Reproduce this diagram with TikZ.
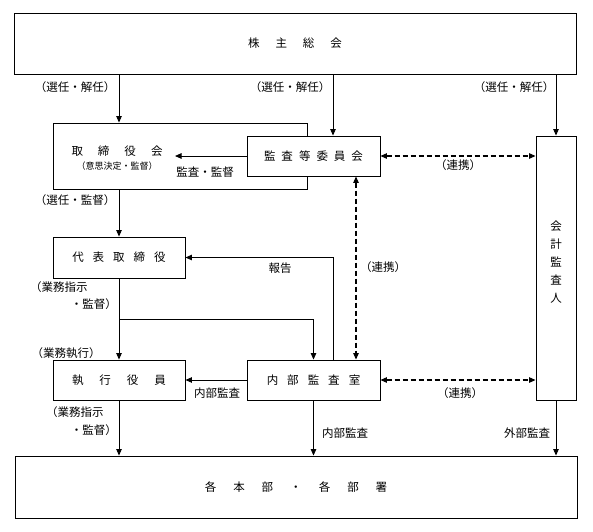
\documentclass[tikz,border=0pt]{standalone}
\usepackage{fontspec}
\setmainfont{Noto Sans CJK JP}
\usetikzlibrary{arrows.meta}
\tikzset{>={Triangle[length=6.5pt,width=5.5pt]}}
\tikzset{
  box/.style={draw, line width=0.9pt, fill=white, inner sep=0pt},
  boxtext/.style={font=\fontsize{11.5}{13}\selectfont, inner sep=0pt},
  lbl/.style={font=\fontsize{11.5}{13}\selectfont, inner sep=0pt},
  flow/.style={->, line width=0.9pt},
  link/.style={<->, dash pattern=on 5pt off 3pt, line width=1.1pt}
}

\begin{document}
\begin{tikzpicture}[x=1pt,y=-1pt]
\useasboundingbox (0,0) rectangle (593,531);
% boxes
\node[box, minimum width=562pt, minimum height=61pt] (soukai) at (295,43.5) {};
\node[box, minimum width=254pt, minimum height=66pt] (torikai) at (180,156) {};
\node[box, minimum width=133pt, minimum height=40pt] (kansa) at (313.5,156) {};
\node[box, minimum width=40pt, minimum height=264pt] (kaikei) at (556,268) {};
\node[box, minimum width=132pt, minimum height=41pt] (daihyo) at (119,257.5) {};
\node[box, minimum width=132pt, minimum height=40pt] (shikko) at (119,380) {};
\node[box, minimum width=133pt, minimum height=40pt] (naibu) at (313.5,380) {};
\node[box, minimum width=562pt, minimum height=62pt] (kakubu) at (296,487) {};
% box texts
\node[boxtext] (soukaitxt) at (soukai) {株\hspace{16pt}主\hspace{16pt}総\hspace{16pt}会};
\node[boxtext] (toritxt) at (117,151) {取\hspace{15pt}締\hspace{15pt}役\hspace{15pt}会};
\node[boxtext, font=\fontsize{9}{10}\selectfont] (torisub) at (117,166) {（意思決定・監督）};
\node[boxtext] (kansatxt) at (kansa) {監\hspace{6pt}査\hspace{6pt}等\hspace{6pt}委\hspace{6pt}員\hspace{6pt}会};
\node[boxtext, align=center, font=\fontsize{11.5}{18}\selectfont] (kaikeitxt) at (556,262) {会\\計\\監\\査\\人};
\node[boxtext] (daihyotxt) at (daihyo) {代\hspace{9pt}表\hspace{9pt}取\hspace{9pt}締\hspace{9pt}役};
\node[boxtext] (shikkotxt) at (shikko) {執\hspace{16pt}行\hspace{16pt}役\hspace{16pt}員};
\node[boxtext] (naibutxt) at (naibu) {内\hspace{9pt}部\hspace{9pt}監\hspace{9pt}査\hspace{9pt}室};
\node[boxtext] (kakubutxt) at (kakubu) {各\hspace{17pt}本\hspace{17pt}部\hspace{17pt}・\hspace{17pt}各\hspace{17pt}部\hspace{17pt}署};
% helper points
\coordinate (hokoku) at (333,0);
\coordinate (renkei) at (356,0);
\coordinate (bunki) at (119,319);
\coordinate (toriin) at (175,156);
% connectors
\draw[flow] (soukai.south -| daihyo) -- (torikai.north -| daihyo);
\draw[flow] (soukai.south -| hokoku) -- (kansa.north -| hokoku);
\draw[flow] (soukai.south -| kaikei) -- (kaikei.north);
\draw[flow] (kansa.west) -- (toriin);
\draw[link] (kansa.east) -- (kaikei.west |- kansa.east);
\draw[link] (kansa.south -| renkei) -- (naibu.north -| renkei);
\draw[flow] (torikai.south -| daihyo) -- (daihyo.north);
\draw[flow] (naibu.north -| hokoku) |- (daihyo.east);
\draw[flow] (daihyo.south) -- (shikko.north);
\draw[flow] (bunki) -| (naibu.north);
\draw[flow] (naibu.west) -- (shikko.east);
\draw[link] (naibu.east) -- (kaikei.west |- naibu.east);
\draw[flow] (shikko.south) -- (kakubu.north -| shikko);
\draw[flow] (naibu.south) -- (kakubu.north -| naibu);
\draw[flow] (kaikei.south) -- (kakubu.north -| kaikei);
% labels
\node[lbl] (l1) at (75,87) {（選任・解任）};
\node[lbl] (l2) at (290,87) {（選任・解任）};
\node[lbl] (l3) at (514,87) {（選任・解任）};
\node[lbl] (l4) at (205,172) {監査・監督};
\node[lbl] (l5) at (458,165) {（連携）};
\node[lbl] (l6) at (75,200) {（選任・監督）};
\node[lbl] (l7) at (280,268) {報告};
\node[lbl] (l8) at (383,267) {（連携）};
\node[lbl, anchor=west] (l9) at (30,287) {（業務指示};
\node[lbl, anchor=east] (l10) at (117,304) {・監督）};
\node[lbl] (l11) at (66,353) {（業務執行）};
\node[lbl] (l12) at (217,393) {内部監査};
\node[lbl] (l13) at (460,393) {（連携）};
\node[lbl, anchor=west] (l14) at (46,412) {（業務指示};
\node[lbl, anchor=east] (l15) at (117,430) {・監督）};
\node[lbl] (l16) at (345,433) {内部監査};
\node[lbl] (l17) at (527,433) {外部監査};
\end{tikzpicture}
\end{document}
